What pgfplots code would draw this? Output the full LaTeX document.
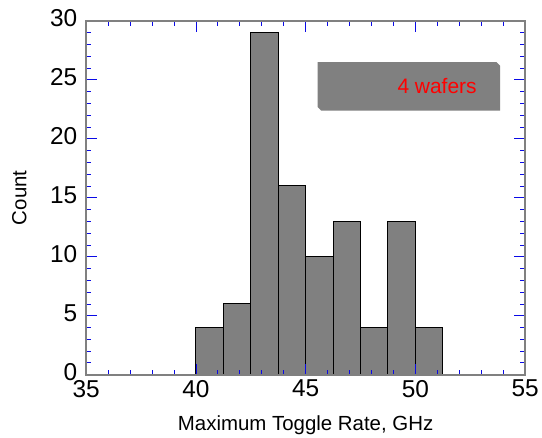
\documentclass[border=0pt]{standalone}
\usepackage{fontspec}
\setmainfont{Liberation Sans}
\usepackage{pgfplots}
\pgfplotsset{compat=1.18}
\definecolor{bargray}{RGB}{128,128,128}
\definecolor{framegray}{RGB}{128,128,128}
\definecolor{tickblue}{RGB}{10,10,230}
\begin{document}
\begin{tikzpicture}
\begin{axis}[
  name=ax,
  axis on top,
  scale only axis,
  width=440.5bp, height=355bp,
  xmin=35, xmax=55, ymin=0, ymax=30,
  xtick={35,40,45,50,55}, ytick={0,5,10,15,20,25,30},
  minor x tick num=4, minor y tick num=4,
  tick align=inside,
  major tick length=11bp, minor tick length=5bp,
  every tick/.style={tickblue, line width=0.8bp},
  axis line style={framegray, line width=1.8bp},
  ticklabel style={font=\fontsize{24.5bp}{24.5bp}\selectfont},
  yticklabel style={xshift=-5.5bp, yshift=2.5bp},
  xticklabel style={yshift=-2bp},
  /pgf/number format/assume math mode=true,
  xlabel={Maximum Toggle Rate, GHz},
  ylabel={Count},
  every axis x label/.style={at={(axis description cs:0.5,0)}, anchor=base, yshift=-56bp, font=\fontsize{20.5bp}{20.5bp}\selectfont},
  every axis y label/.style={at={(axis description cs:-0.1521,0.5)}, anchor=center, rotate=90, font=\fontsize{20.5bp}{20.5bp}\selectfont},
]
\addplot[ybar interval, fill=bargray, draw=black, line width=1bp]
coordinates {(40,4) (41.25,6) (42.5,29) (43.75,16) (45,10) (46.25,13) (47.5,4) (48.75,13) (50,4) (51.25,4)};
\fill[bargray] (axis cs:45.55,26.5) -- (axis cs:53.7,26.5) -- (axis cs:53.86,26.2) -- (axis cs:53.86,22.4) -- (axis cs:45.7,22.4) -- (axis cs:45.55,22.7) -- cycle;
\node[anchor=east, text=red, font=\fontsize{21bp}{21bp}\selectfont] at (axis cs:52.95,24.45) {4 wafers};
\end{axis}
\useasboundingbox ([shift={(-86.5bp,-62bp)}]ax.south west) rectangle ([shift={(15bp,21bp)}]ax.north east);
\end{tikzpicture}
\end{document}
